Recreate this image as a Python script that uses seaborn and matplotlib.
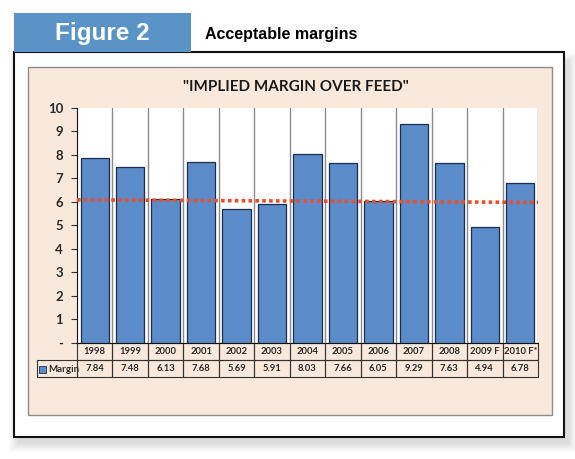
import matplotlib
matplotlib.use('Agg')
import matplotlib.pyplot as plt
from matplotlib.patches import Rectangle
import seaborn as sns
import pandas as pd

years = ["1998", "1999", "2000", "2001", "2002", "2003", "2004",
         "2005", "2006", "2007", "2008", "2009 F", "2010 F*"]
margins = [7.84, 7.48, 6.13, 7.68, 5.69, 5.91, 8.03, 7.66, 6.05, 9.29, 7.63, 4.94, 6.78]
trend_ends = [6.08, 5.97]
yticks = [0, 1, 2, 3, 4, 5, 6, 7, 8, 9, 10]

sns.set_style("white")
plt.rcParams['font.family'] = ['Lato', 'DejaVu Sans']

W, H = 575, 459
fig = plt.figure(figsize=(W / 100, H / 100), dpi=100)

#背景：像素坐标
bg = fig.add_axes([0, 0, 1, 1], zorder=0)
bg.set_xlim(0, W)
bg.set_ylim(H, 0)
bg.axis('off')

# 阴影
for i, a in enumerate([0.04, 0.05, 0.06, 0.07, 0.08]):
    d = 9 - 2 * i
    bg.add_patch(Rectangle((14 - d + 4, 52 - d + 10), 550 + 2 * d, 385 + 2 * d - 4,
                           facecolor="#808080", edgecolor="none", alpha=a))
bg.add_patch(Rectangle((14, 52), 550, 385, facecolor="white", edgecolor="#111111", lw=1.5))
bg.add_patch(Rectangle((14, 13), 177, 39, facecolor="#5a93c5", edgecolor="none"))
bg.text(102, 33.5, "Figure 2", color="white", fontsize=17.5, fontweight="bold",
        family=["Liberation Sans", "DejaVu Sans"], ha="center", va="center")
bg.text(205, 34, "Acceptable margins", color="black", fontsize=11.5, fontweight="bold",
        family=["Liberation Sans Narrow", "Liberation Sans", "DejaVu Sans"], ha="left", va="center")
bg.add_patch(Rectangle((28, 67), 524, 348, facecolor="#f9e9dc", edgecolor="#8c8c8c", lw=1))
bg.text(296, 87, "\"IMPLIED MARGIN OVER FEED\"", fontsize=11, fontweight="bold",
        color="#1a1a1a", ha="center", va="center")

#主图
ax = fig.add_axes([77 / W, 1 - 342.7 / H, 461 / W, 235 / H], zorder=2)
ax.set_facecolor("white")
df = pd.DataFrame({"year": years, "margin": margins})
sns.barplot(data=df, x="year", y="margin", ax=ax, color="#5b8bc8", saturation=1,
            edgecolor="#1c2e4a", linewidth=0.9, width=0.8, zorder=3)
ax.plot([-0.5, len(years) - 0.5], trend_ends, color="#e8502a", lw=2.6,
        linestyle=(0, (1, 0.9)), zorder=4)

ax.set_xlim(-0.5, len(years) - 0.5)
ax.set_ylim(0, 10)
for k in range(1, len(years) + 1):
    ax.axvline(k - 0.5, color="#8a8a8a", lw=1, zorder=1)
ax.set_yticks(yticks)
ax.set_yticklabels(["-"] + [str(t) for t in yticks[1:]], fontsize=9.5, fontweight="bold", color="#2a2a2a")
ax.tick_params(axis="y", left=True, length=4, width=0.8, color="#333333", pad=6)
ax.set_xticks([])
ax.set_xlabel("")
ax.set_ylabel("")
for s in ["top", "right"]:
    ax.spines[s].set_visible(False)
ax.spines["left"].set_color("#111111")
ax.spines["bottom"].set_color("#111111")

#数据表
th = 34 / 235
tab = ax.table(cellText=[[f"{v:.2f}" for v in margins]], colLabels=years,
               cellLoc="center", bbox=[0, -th, 1, th])
tab.auto_set_font_size(False)
for (r, c), cell in tab.get_celld().items():
    cell.set_facecolor("none")
    cell.set_edgecolor("#333333")
    cell.set_linewidth(0.8)
    cell.get_text().set_fontsize(6.8)
    cell.get_text().set_fontweight("bold")
    cell.get_text().set_color("#2a2a2a")

lw_ = 40 / 461
leg = ax.table(cellText=[[""]], bbox=[-lw_, -th, lw_, th / 2])
for cell in leg.get_celld().values():
    cell.set_facecolor("none")
    cell.set_edgecolor("#333333")
    cell.set_linewidth(0.8)
bg.add_patch(Rectangle((39, 366), 7, 7, facecolor="#5b8bc8", edgecolor="#1c2e4a", lw=0.6))
bg.text(48, 369.5, "Margin", fontsize=7, fontweight="bold", color="#2a2a2a", va="center", ha="left")

fig.savefig("out.png", dpi=100)
